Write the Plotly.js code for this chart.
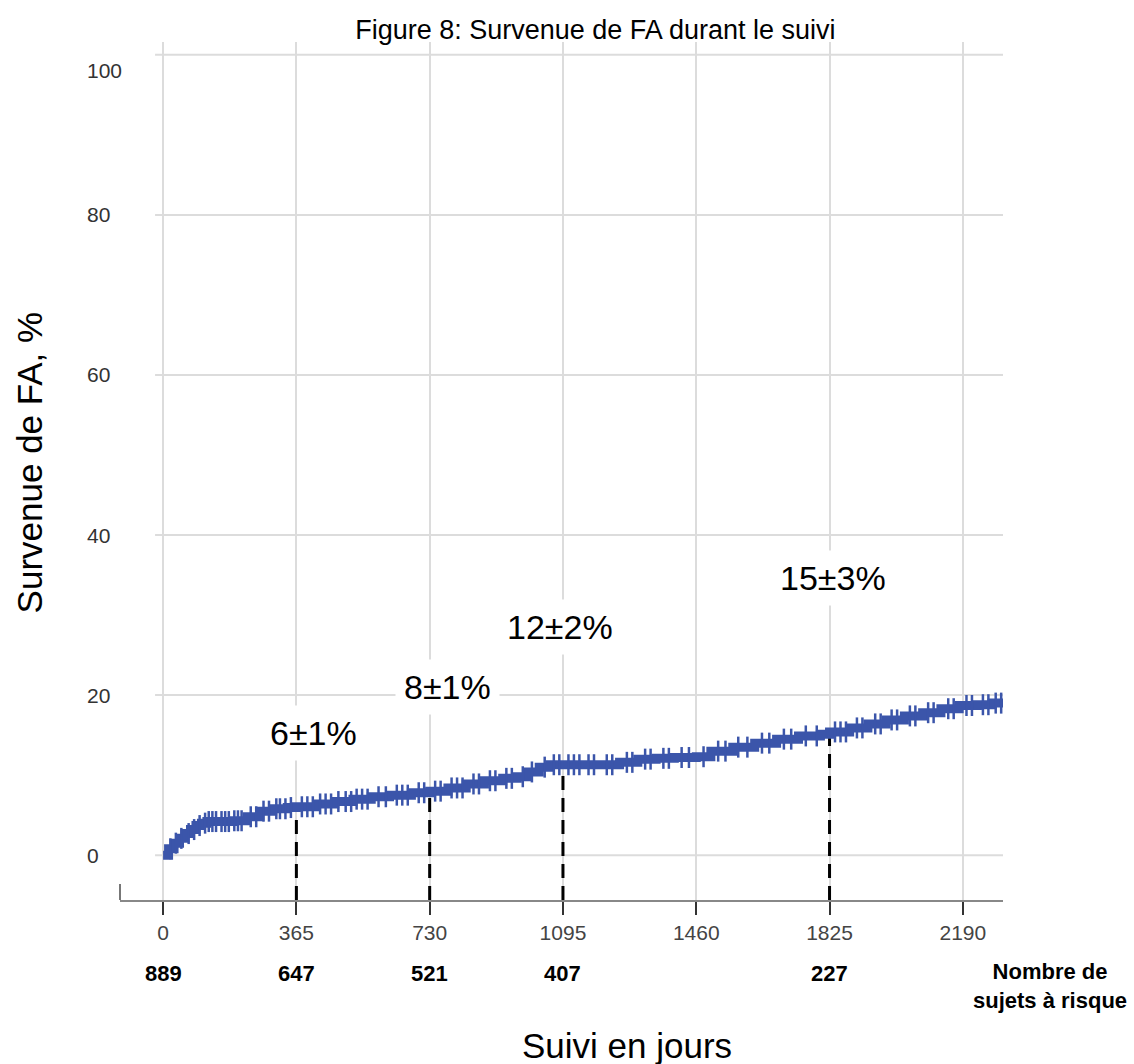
<!DOCTYPE html>
<html>
<head>
<meta charset="utf-8">
<script src="https://cdn.plot.ly/plotly-3.0.1.min.js"></script>
<style>html,body{margin:0;padding:0;background:#fff;}#chart{width:1134px;height:1064px;}</style>
</head>
<body>
<div id="chart"></div>
<script>
// Kaplan-Meier style cumulative incidence of AF
const curveDays = [0, 15, 30, 45, 60, 75, 90, 105, 120, 150, 190, 230, 265, 300, 340, 365, 420, 470, 520, 570, 620, 680, 730, 780, 830, 880, 930, 970, 1000, 1030, 1060, 1095, 1150, 1200, 1250, 1300, 1350, 1400, 1460, 1500, 1560, 1620, 1680, 1740, 1800, 1825, 1880, 1930, 1980, 2030, 2080, 2130, 2180, 2230, 2270, 2300];
const curvePct  = [0, 0.8, 1.5, 2.1, 2.7, 3.2, 3.7, 4.0, 4.2, 4.2, 4.3, 4.8, 5.5, 5.8, 5.95, 6.05, 6.4, 6.7, 7.0, 7.3, 7.5, 7.8, 8.0, 8.4, 8.9, 9.3, 9.6, 9.8, 10.4, 11.0, 11.3, 11.3, 11.3, 11.3, 11.6, 12.0, 12.1, 12.2, 12.3, 13.0, 13.5, 14.0, 14.5, 14.9, 15.1, 15.4, 15.9, 16.4, 16.9, 17.4, 17.8, 18.3, 18.7, 18.8, 19.0, 19.3];
const censorDays = [20,35,50,70,85,100,115,125,135,145,160,170,180,195,205,215,240,255,275,290,310,320,335,350,380,395,410,430,445,460,480,500,515,530,545,560,590,610,640,655,670,700,715,745,760,790,805,820,850,865,895,910,940,955,985,1010,1045,1070,1085,1110,1125,1140,1165,1180,1215,1230,1270,1285,1320,1335,1370,1385,1420,1440,1480,1520,1540,1575,1600,1640,1660,1700,1720,1760,1790,1840,1855,1870,1900,1915,1950,1965,1995,2010,2045,2060,2095,2110,2150,2165,2200,2215,2245,2260,2280,2295];

const xTicks = [0, 365, 730, 1095, 1460, 1825, 2190];
const xTickLabels = ["0", "365", "730", "1095", "1460", "1825", "2190"];
const yTicks = [0, 20, 40, 60, 80, 100];
const yTickLabels = ["0", "20", "40", "60", "80", "100"];

const milestoneDays = [365, 730, 1095, 1825];
const milestoneLabels = ["6±1%", "8±1%", "12±2%", "15±3%"];
const milestoneLabelX = [411, 779, 1087, 1834];
const milestoneLabelY = [15.25, 21, 28.5, 34.6];

const atRiskDays = [0, 365, 730, 1095, 1825];
const atRiskCounts = ["889", "647", "521", "407", "227"];

const xRange = [-118, 2300];
const yRange = [-5.6, 101.6];

function stepValue(day) {
  let v = curvePct[0];
  for (let i = 0; i < curveDays.length; i++) {
    if (curveDays[i] <= day) v = curvePct[i];
  }
  return v;
}

const blue = '#3b55aa';
const font = 'Liberation Sans, Arial, Helvetica, sans-serif';

const traces = [
  {
    x: curveDays, y: curvePct, type: 'scatter', mode: 'lines',
    line: {color: blue, width: 9, shape: 'hv'}, hoverinfo: 'skip', showlegend: false
  },
  {
    x: censorDays, y: censorDays.map(stepValue), type: 'scatter', mode: 'markers',
    marker: {symbol: 'line-ns', size: 15, line: {color: blue, width: 2.5}, color: blue},
    hoverinfo: 'skip', showlegend: false
  }
];

const shapes = [];
yTicks.forEach(v => shapes.push({
  type: 'line', xref: 'x', yref: 'y', x0: -22, x1: xRange[1], y0: v, y1: v,
  line: {color: '#dcdcdc', width: 2}, layer: 'below'
}));
milestoneDays.forEach(d => shapes.push({
  type: 'line', xref: 'x', yref: 'y', x0: d, x1: d, y0: yRange[0], y1: stepValue(d),
  line: {color: '#000', width: 3, dash: '14px,8px'}, layer: 'between'
}));
shapes.push({
  type: 'line', xref: 'paper', yref: 'paper', x0: 0, x1: 0, y0: 0, y1: 0.0186,
  line: {color: '#777', width: 2}
});

const annotations = [];
milestoneLabels.forEach((t, i) => annotations.push({
  x: milestoneLabelX[i], y: milestoneLabelY[i], xref: 'x', yref: 'y', text: t,
  showarrow: false, font: {family: font, size: 34, color: '#000'},
  bgcolor: '#fff', borderpad: 8, xanchor: 'center', yanchor: 'middle'
}));
yTickLabels.forEach((t, i) => annotations.push({
  x: -0.0396, y: yTicks[i], xref: 'paper', yref: 'y', text: t,
  showarrow: false, xanchor: 'left', yanchor: 'middle',
  yshift: yTicks[i] === 100 ? -16 : 0,
  font: {family: font, size: 21, color: '#333'}
}));
atRiskCounts.forEach((t, i) => annotations.push({
  x: atRiskDays[i], y: 0, xref: 'x', yref: 'paper', text: '<b>' + t + '</b>',
  showarrow: false, xanchor: 'center', yanchor: 'middle', yshift: -73,
  font: {family: font, size: 22, color: '#000'}
}));
annotations.push({
  x: 1.053, y: 0, xref: 'paper', yref: 'paper', text: '<b>Nombre de<br>sujets à risque</b>',
  showarrow: false, xanchor: 'center', yanchor: 'middle', yshift: -86, align: 'center',
  font: {family: font, size: 22, color: '#000'}
});
annotations.push({
  x: 0.574, y: 0, xref: 'paper', yref: 'paper', text: 'Suivi en jours',
  showarrow: false, xanchor: 'center', yanchor: 'middle', yshift: -145,
  font: {family: font, size: 35, color: '#000'}
});
annotations.push({
  x: 0, y: 0.51, xref: 'paper', yref: 'paper', text: 'Survenue de FA, %',
  showarrow: false, xanchor: 'center', yanchor: 'middle', xshift: -91, textangle: -90,
  font: {family: font, size: 35, color: '#000'}
});

const layout = {
  width: 1134, height: 1064,
  margin: {l: 120, r: 131, t: 42, b: 164},
  paper_bgcolor: '#fff', plot_bgcolor: '#fff',
  title: {text: 'Figure 8: Survenue de FA durant le suivi', x: 0.525, xanchor: 'center', y: 0.972, yanchor: 'middle',
          font: {family: font, size: 27, color: '#000'}},
  xaxis: {
    range: xRange, tickvals: xTicks, ticktext: xTickLabels,
    showgrid: true, gridcolor: '#dcdcdc', gridwidth: 2, zeroline: false,
    showline: true, linecolor: '#888', linewidth: 2,
    ticks: 'outside', ticklen: 13, tickwidth: 2, tickcolor: '#333',
    tickfont: {family: font, size: 21, color: '#444'}, fixedrange: true
  },
  yaxis: {
    range: yRange, showgrid: false, zeroline: false, showticklabels: false,
    showline: false, ticks: '', fixedrange: true
  },
  shapes: shapes,
  annotations: annotations,
  showlegend: false
};

Plotly.newPlot('chart', traces, layout, {displayModeBar: false, staticPlot: true});
</script>
</body>
</html>
